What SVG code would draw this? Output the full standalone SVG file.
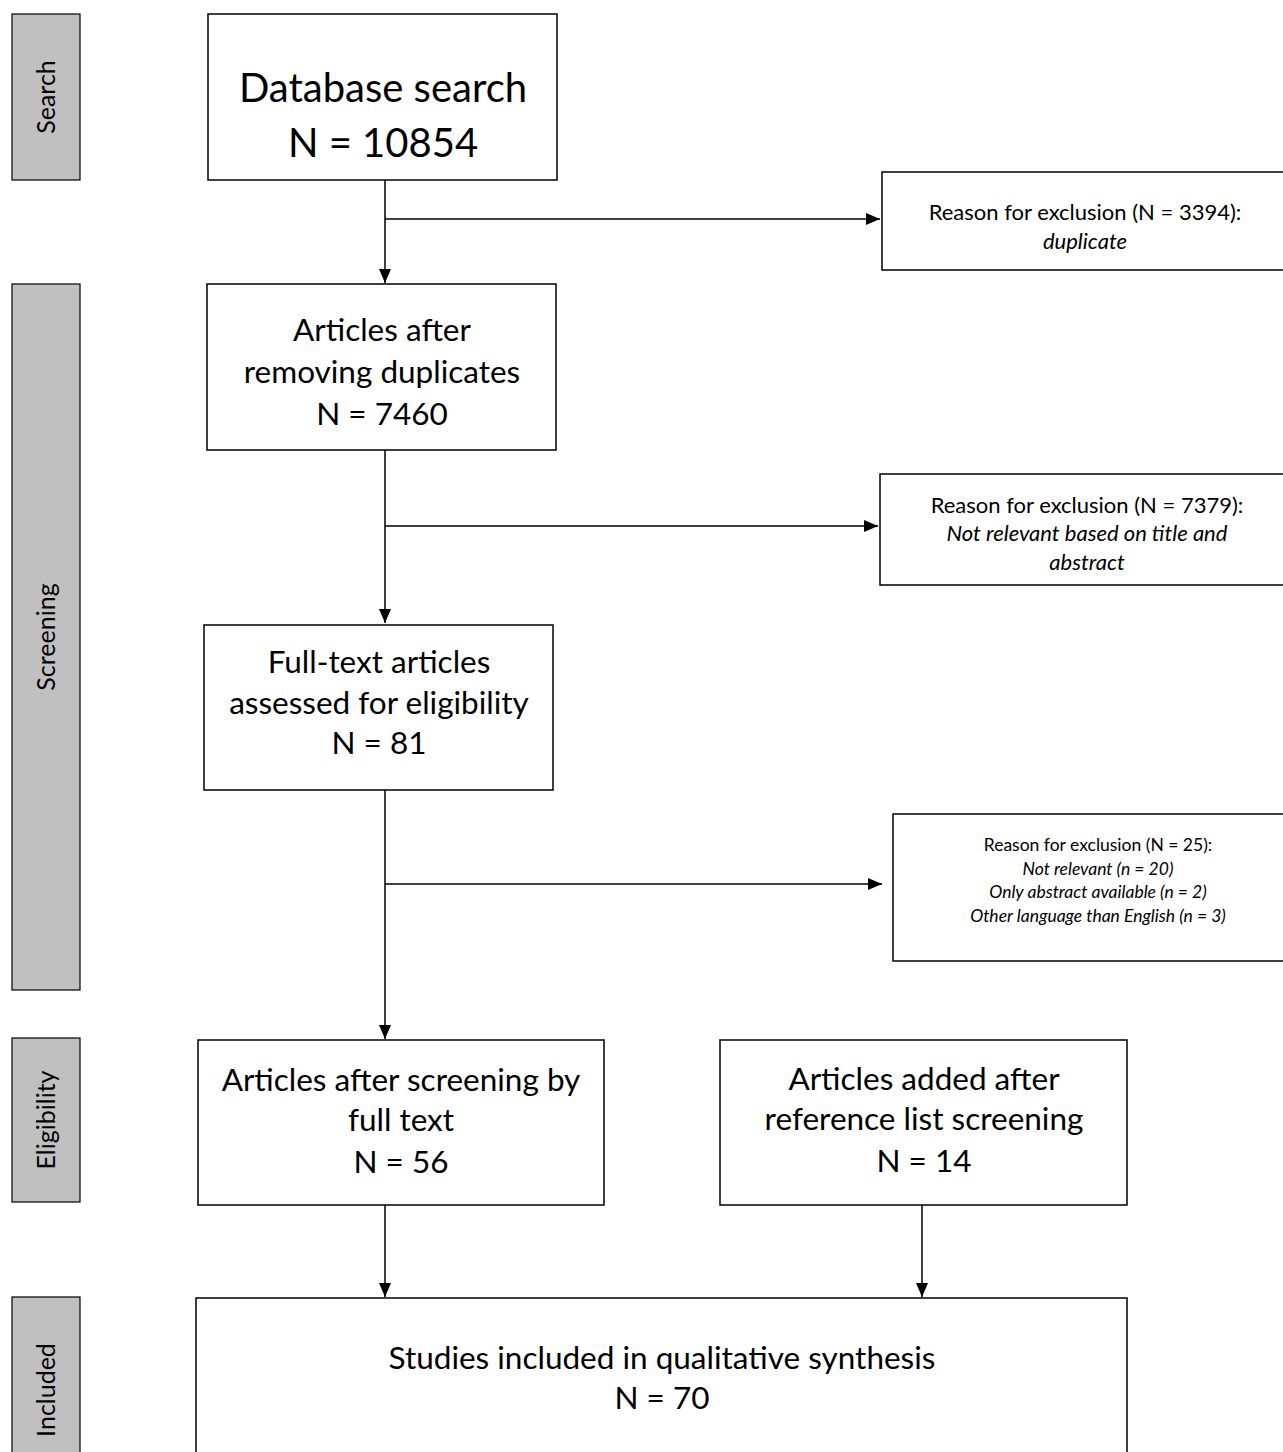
<svg xmlns="http://www.w3.org/2000/svg" width="1283" height="1452" viewBox="0 0 1283 1452">
<defs>
<marker id="ah" markerWidth="14" markerHeight="12" refX="14" refY="6" orient="auto" markerUnits="userSpaceOnUse"><path d="M0,0 L14,6 L0,12 Z" fill="#000"/></marker>
<style>
.box{fill:#fff;stroke:#000;stroke-width:1.5}
.bar{fill:#c0c0c0;stroke:#000;stroke-width:1.2}
.c{fill:none;stroke:#000;stroke-width:1.5}
text{font-family:Lato,"Liberation Sans",sans-serif;fill:#000;text-anchor:middle}
.big{font-size:40px}
.m{font-size:31.5px}
.s{font-size:22px}
.xs{font-size:17.5px}
.lab{font-size:25px}
.i{font-style:italic}
</style>
</defs>
<rect width="1283" height="1452" fill="#fff"/>
<g id="bar-search"><rect class="bar" x="12" y="14" width="68" height="166"/><text class="lab" transform="translate(55,97) rotate(-90)">Search</text></g>
<g id="bar-screening"><rect class="bar" x="12" y="284" width="68" height="706"/><text class="lab" transform="translate(55,637) rotate(-90)">Screening</text></g>
<g id="bar-eligibility"><rect class="bar" x="12" y="1038" width="68" height="164"/><text class="lab" transform="translate(55,1120) rotate(-90)">Eligibility</text></g>
<g id="bar-included"><rect class="bar" x="12" y="1297" width="68" height="170"/><text class="lab" transform="translate(55,1390) rotate(-90)">Included</text></g>

<g id="connectors">
<path class="c" d="M385,180 V283" marker-end="url(#ah)"/>
<path class="c" d="M385,219 H880" marker-end="url(#ah)"/>
<path class="c" d="M385,450 V623" marker-end="url(#ah)"/>
<path class="c" d="M385,526 H878" marker-end="url(#ah)"/>
<path class="c" d="M385,790 V1039" marker-end="url(#ah)"/>
<path class="c" d="M385,884 H882" marker-end="url(#ah)"/>
<path class="c" d="M385,1205 V1297" marker-end="url(#ah)"/>
<path class="c" d="M922,1205 V1297" marker-end="url(#ah)"/>
</g>

<g id="n-database"><rect class="box" x="208" y="14" width="349" height="166"/>
<text class="big" x="383" y="102">Database search</text><text class="big" x="383" y="157">N = 10854</text></g>

<g id="n-excl1"><rect class="box" x="882" y="172" width="410" height="98"/>
<text class="s" x="1085" y="220">Reason for exclusion (N = 3394):</text><text class="s i" x="1085" y="249">duplicate</text></g>

<g id="n-dedup"><rect class="box" x="207" y="284" width="349" height="166"/>
<text class="m" x="382" y="341">Articles after</text><text class="m" x="382" y="383">removing duplicates</text><text class="m" x="382" y="425">N = 7460</text></g>

<g id="n-excl2"><rect class="box" x="880" y="474" width="410" height="111"/>
<text class="s" x="1087" y="513">Reason for exclusion (N = 7379):</text><text class="s i" x="1087" y="541">Not relevant based on title and</text><text class="s i" x="1087" y="570">abstract</text></g>

<g id="n-fulltext"><rect class="box" x="204" y="625" width="349" height="165"/>
<text class="m" x="379" y="673">Full-text articles</text><text class="m" x="379" y="714">assessed for eligibility</text><text class="m" x="379" y="754">N = 81</text></g>

<g id="n-excl3"><rect class="box" x="893" y="814" width="400" height="147"/>
<text class="xs" x="1098" y="851">Reason for exclusion (N = 25):</text><text class="xs i" x="1098" y="875">Not relevant (n = 20)</text><text class="xs i" x="1098" y="898">Only abstract available (n = 2)</text><text class="xs i" x="1098" y="922">Other language than English (n = 3)</text></g>

<g id="n-screened"><rect class="box" x="198" y="1040" width="406" height="165"/>
<text class="m" x="401" y="1091">Articles after screening by</text><text class="m" x="401" y="1131">full text</text><text class="m" x="401" y="1173">N = 56</text></g>

<g id="n-added"><rect class="box" x="720" y="1040" width="407" height="165"/>
<text class="m" x="924" y="1090">Articles added after</text><text class="m" x="924" y="1130">reference list screening</text><text class="m" x="924" y="1172">N = 14</text></g>

<g id="n-included"><rect class="box" x="196" y="1298" width="931" height="170"/>
<text class="m" x="662" y="1369">Studies included in qualitative synthesis</text><text class="m" x="662" y="1409">N = 70</text></g>
</svg>
